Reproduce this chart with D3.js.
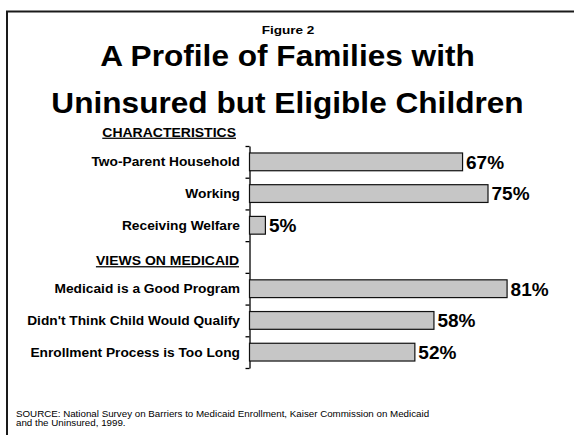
<!DOCTYPE html>
<html>
<head>
<meta charset="utf-8">
<script src="https://cdn.jsdelivr.net/npm/d3@7"></script>
<style>
  html, body { margin: 0; padding: 0; background: #fff; }
  svg { display: block; }
  text { font-family: "Liberation Sans", Arial, Helvetica, sans-serif; fill: #000; }
</style>
</head>
<body>
<svg id="chart" width="574" height="435"></svg>
<script>
// Survey results: share of families with uninsured but eligible children
const sections = ["CHARACTERISTICS", "VIEWS ON MEDICAID"];
const categories = [
  "Two-Parent Household",
  "Working",
  "Receiving Welfare",
  "Medicaid is a Good Program",
  "Didn't Think Child Would Qualify",
  "Enrollment Process is Too Long"
];
const categorySection = [0, 0, 0, 1, 1, 1];
const values = [67, 75, 5, 81, 58, 52];
const valueLabels = ["67%", "75%", "5%", "81%", "58%", "52%"];
const figureLabel = "Figure 2";
const titleLines = ["A Profile of Families with", "Uninsured but Eligible Children"];
const sourceLines = [
  "SOURCE:  National Survey on Barriers to Medicaid Enrollment, Kaiser Commission on Medicaid",
  "and the Uninsured, 1999."
];

const svg = d3.select("#chart");

// slide frame
svg.append("rect")
  .attr("x", 7).attr("y", 11.5)
  .attr("width", 620).attr("height", 500)
  .attr("fill", "none").attr("stroke", "#1a1a1a").attr("stroke-width", 2);

// headings
svg.append("text")
  .attr("text-anchor", "middle")
  .attr("font-size", 11.5).attr("font-weight", "bold")
  .attr("transform", "translate(288,34) scale(1.18,1)")
  .text(figureLabel);

svg.selectAll("text.title")
  .data(titleLines)
  .join("text")
  .attr("class", "title")
  .attr("text-anchor", "middle")
  .attr("font-size", 29).attr("font-weight", "bold")
  .attr("transform", (d, i) => `translate(287.5,${66 + i * 46.7}) scale(1.09,1)`)
  .text(d => d);

// rows: the second section header occupies its own row between the groups
const rows = [];
categories.forEach((c, i) => {
  if (i > 0 && categorySection[i] !== categorySection[i - 1]) rows.push({ header: sections[categorySection[i]] });
  rows.push({ name: c, value: values[i], label: valueLabels[i] });
});

const plotTop = 146, plotBottom = 368;
const y = d3.scaleBand()
  .domain(d3.range(rows.length))
  .range([plotTop, plotBottom])
  .paddingInner(0.44)
  .paddingOuter(0.22);

const x = d3.scaleLinear().domain([0, 100]).range([249.5, 567.5]);

// category axis with ticks at row boundaries
const yEdges = d3.scaleLinear().domain([0, rows.length]).range([plotTop, plotBottom]);
const axis = svg.append("g")
  .attr("transform", `translate(${x(0)},0)`)
  .call(d3.axisLeft(yEdges).ticks(rows.length).tickSize(4).tickSizeOuter(0).tickFormat(""));
axis.select(".domain").attr("stroke", "#000").attr("stroke-width", 1.3);
axis.selectAll(".tick line").attr("stroke", "#000").attr("stroke-width", 1.3);

const barRows = rows.map((r, i) => ({ ...r, i })).filter(r => !r.header);
const headerRows = rows.map((r, i) => ({ ...r, i })).filter(r => r.header);

// bars
svg.selectAll("rect.bar")
  .data(barRows)
  .join("rect")
  .attr("class", "bar")
  .attr("x", x(0))
  .attr("y", d => y(d.i))
  .attr("width", d => x(d.value) - x(0))
  .attr("height", y.bandwidth())
  .attr("fill", "#c6c6c6")
  .attr("stroke", "#111")
  .attr("stroke-width", 1.2);

// category labels
svg.selectAll("text.cat")
  .data(barRows)
  .join("text")
  .attr("class", "cat")
  .attr("text-anchor", "end")
  .attr("font-size", 12.5).attr("font-weight", "bold")
  .attr("transform", d => `translate(240,${y(d.i) + y.bandwidth() / 2 + 4.5}) scale(1.1,1)`)
  .text(d => d.name);

// value labels
svg.selectAll("text.val")
  .data(barRows)
  .join("text")
  .attr("class", "val")
  .attr("x", d => x(d.value) + 3.5)
  .attr("y", d => y(d.i) + y.bandwidth() / 2 + 6.8)
  .attr("font-size", 19).attr("font-weight", "bold")
  .text(d => d.label);

// section headers (underlined)
function header(textValue, xRight, baseline) {
  return svg.append("text")
    .attr("text-anchor", "end")
    .attr("font-size", 12.5).attr("font-weight", "bold")
    .attr("text-decoration", "underline")
    .attr("transform", `translate(${xRight},${baseline}) scale(1.12,1)`)
    .text(textValue);
}
header(sections[0], 236, 136.7);
headerRows.forEach(d => header(d.header, 239, y(d.i) + y.bandwidth() / 2 + 8.2));

// source note
svg.selectAll("text.src")
  .data(sourceLines)
  .join("text")
  .attr("class", "src")
  .attr("font-size", 8.5)
  .attr("transform", (d, i) => `translate(16,${417 + i * 8.5}) scale(1.15,1)`)
  .text(d => d);
</script>
</body>
</html>
